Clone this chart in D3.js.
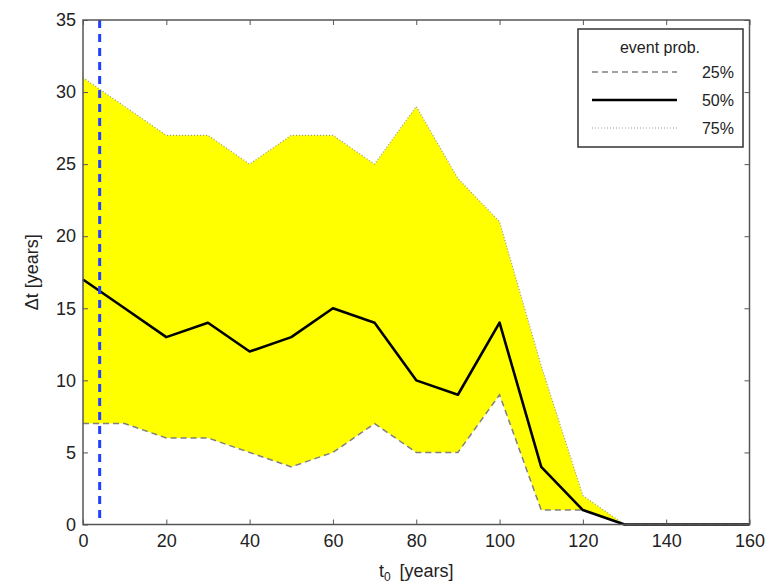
<!DOCTYPE html>
<html>
<head>
<meta charset="utf-8">
<script src="https://cdn.jsdelivr.net/npm/d3@7"></script>
<style>
  html, body { margin: 0; padding: 0; background: #fff; }
  svg { display: block; font-family: "Liberation Sans", Arial, sans-serif; }
</style>
</head>
<body>
<svg id="chart" width="780" height="586"></svg>
<script>
// Start times t0 [years]
const t0 = [0, 10, 20, 30, 40, 50, 60, 70, 80, 90, 100, 110, 120, 130, 140, 150, 160];
// Waiting time Δt [years] for each event probability
const p25 = [7, 7, 6, 6, 5, 4, 5, 7, 5, 5, 9, 1, 1, 0, 0, 0, 0];
const p50 = [17, 15, 13, 14, 12, 13, 15, 14, 10, 9, 14, 4, 1, 0, 0, 0, 0];
const p75 = [31, 29, 27, 27, 25, 27, 27, 25, 29, 24, 21, 11, 2, 0, 0, 0, 0];
// Reference start time marker
const markerT0 = 4;
// Axis ticks
const xTicks = [0, 20, 40, 60, 80, 100, 120, 140, 160];
const yTicks = [0, 5, 10, 15, 20, 25, 30, 35];
// Legend entries
const legendTitle = "event prob.";
const legendLabels = ["25%", "50%", "75%"];

const svg = d3.select("#chart");
const margin = { left: 83, right: 30.5, top: 20, bottom: 61.5 };
const W = 780, H = 586;
const x = d3.scaleLinear().domain([0, 160]).range([margin.left, W - margin.right]);
const y = d3.scaleLinear().domain([0, 35]).range([H - margin.bottom, margin.top]);

const rows = t0.map((t, i) => ({ t, lo: p25[i], mid: p50[i], hi: p75[i] }));

// Band between the 25% and 75% curves
svg.append("path")
  .datum(rows)
  .attr("fill", "#ffff00")
  .attr("d", d3.area().x(d => x(d.t)).y0(d => y(d.lo)).y1(d => y(d.hi)));

const line = key => d3.line().x(d => x(d.t)).y(d => y(d[key]));

svg.append("path").datum(rows)
  .attr("fill", "none").attr("stroke", "#808080").attr("stroke-width", 1.5)
  .attr("stroke-dasharray", "6,4")
  .attr("d", line("lo"));

svg.append("path").datum(rows)
  .attr("fill", "none").attr("stroke", "#999").attr("stroke-width", 1.2)
  .attr("stroke-dasharray", "1,2")
  .attr("d", line("hi"));

svg.append("path").datum(rows)
  .attr("fill", "none").attr("stroke", "#000").attr("stroke-width", 2.6)
  .attr("stroke-linejoin", "round")
  .attr("d", line("mid"));

// Vertical marker
svg.append("line")
  .attr("x1", x(markerT0)).attr("x2", x(markerT0))
  .attr("y1", y(35)).attr("y2", y(0))
  .attr("stroke", "#2040ff").attr("stroke-width", 3)
  .attr("stroke-dasharray", "8,6");

// Axes with inward ticks on all four sides
const axisColor = "#555";
const tickLen = 5;
const styleAxis = g => {
  g.select(".domain").remove();
  g.selectAll(".tick line").attr("stroke", axisColor).attr("stroke-width", 1);
  g.selectAll(".tick text").attr("fill", "#222").attr("font-size", 18)
    .attr("font-family", "Liberation Sans, Arial, sans-serif");
};

svg.append("g").attr("transform", `translate(0,${y(0)})`)
  .call(d3.axisBottom(x).tickValues(xTicks).tickSize(-tickLen).tickPadding(10))
  .call(styleAxis);
svg.append("g").attr("transform", `translate(0,${y(35)})`)
  .call(d3.axisTop(x).tickValues(xTicks).tickSize(-tickLen).tickFormat(""))
  .call(styleAxis);
svg.append("g").attr("transform", `translate(${x(0)},0)`)
  .call(d3.axisLeft(y).tickValues(yTicks).tickSize(-tickLen).tickPadding(7))
  .call(styleAxis);
svg.append("g").attr("transform", `translate(${x(160)},0)`)
  .call(d3.axisRight(y).tickValues(yTicks).tickSize(-tickLen).tickFormat(""))
  .call(styleAxis);

// Frame
svg.append("rect")
  .attr("x", x(0)).attr("y", y(35))
  .attr("width", x(160) - x(0)).attr("height", y(0) - y(35))
  .attr("fill", "none").attr("stroke", axisColor).attr("stroke-width", 1.5);

// Axis labels
const xl = svg.append("text")
  .attr("x", (x(0) + x(160)) / 2).attr("y", 577)
  .attr("text-anchor", "middle").attr("font-size", 18).attr("fill", "#222");
xl.append("tspan").text("t");
xl.append("tspan").text("0").attr("font-size", 12).attr("dy", 4);
xl.append("tspan").text("\u2009 [years]").attr("dy", -4);

svg.append("text")
  .attr("transform", `translate(38,${(y(0) + y(35)) / 2}) rotate(-90)`)
  .attr("text-anchor", "middle").attr("font-size", 18).attr("fill", "#222")
  .text("\u0394t [years]");

// Legend
const lg = svg.append("g");
lg.append("rect")
  .attr("x", 578).attr("y", 29).attr("width", 165).attr("height", 118)
  .attr("fill", "#fff").attr("stroke", "#333").attr("stroke-width", 1.5);
lg.append("text").attr("x", 660).attr("y", 53)
  .attr("text-anchor", "middle").attr("font-size", 16).attr("fill", "#222")
  .text(legendTitle);
const legendStyles = [
  { stroke: "#808080", width: 1.5, dash: "6,4" },
  { stroke: "#000", width: 2.6, dash: null },
  { stroke: "#999", width: 1.2, dash: "1,2" }
];
legendLabels.forEach((lab, i) => {
  const yy = 72 + i * 28;
  const s = legendStyles[i];
  lg.append("line").attr("x1", 592).attr("x2", 677).attr("y1", yy).attr("y2", yy)
    .attr("stroke", s.stroke).attr("stroke-width", s.width)
    .attr("stroke-dasharray", s.dash);
  lg.append("text").attr("x", 734).attr("y", yy + 6)
    .attr("text-anchor", "end").attr("font-size", 16).attr("fill", "#222")
    .text(lab);
});
</script>
</body>
</html>
